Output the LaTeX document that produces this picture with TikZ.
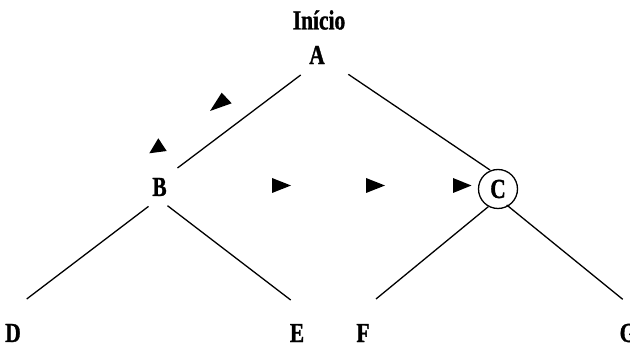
\documentclass[tikz,border=0pt]{standalone}
\usepackage{fontspec}
\setmainfont{Liberation Serif}[FakeStretch=0.78,BoldFeatures={FakeBold=1.2}]
\begin{document}
\begin{tikzpicture}[x=1pt,y=-1pt,
  lbl/.style={inner sep=0pt,font=\fontsize{27.5}{32}\selectfont\bfseries},
  ring/.style={circle,draw,line width=1.3pt,minimum size=39pt,inner sep=0pt,font=\fontsize{27.5}{32}\selectfont\bfseries},
  edge/.style={line width=1.3pt},
  tri/.style={fill=black}]
\useasboundingbox (0,0) rectangle (630,347);
\node[lbl] (start) at (319,20) {Início};
\node[lbl] (A) at (317,55) {A};
\node[lbl] (B) at (159.5,187) {B};
\node[ring] (C) at (498,189) {C};
\node[lbl] (D) at (13,333) {D};
\node[lbl] (E) at (297,333) {E};
\node[lbl] (F) at (363,333) {F};
\node[lbl] (G) at (628,333) {G};
% connectors
\draw[edge] ([shift={(-16.3,20)}]A.center) -- ([shift={(18,-19)}]B.center);
\draw[edge] ([shift={(31.3,19.3)}]A.center) -- ([shift={(-8,-19)}]C.center);
\draw[edge] ([shift={(-11,19.4)}]B.center) -- ([shift={(13.7,-34)}]D.center);
\draw[edge] ([shift={(8,18.7)}]B.center) -- ([shift={(-6.3,-33)}]E.center);
\draw[edge] ([shift={(-9.7,17.7)}]C.center) -- ([shift={(13,-34)}]F.center);
\draw[edge] ([shift={(8.7,16)}]C.center) -- ([shift={(-5.3,-33.7)}]G.center);
% direction marks
\fill[tri] (221.7,92.7) -- (231.7,103.3) -- (210,111) -- cycle;
\fill[tri] (158.3,138.3) -- (166.7,151) -- (149.3,153.3) -- cycle;
\fill[tri] (272,178) -- (291,185.5) -- (272,193) -- cycle;
\fill[tri] (366,178) -- (385,185.5) -- (366,193) -- cycle;
\fill[tri] (453,178) -- (471.5,185.5) -- (453,193) -- cycle;
\end{tikzpicture}
\end{document}
